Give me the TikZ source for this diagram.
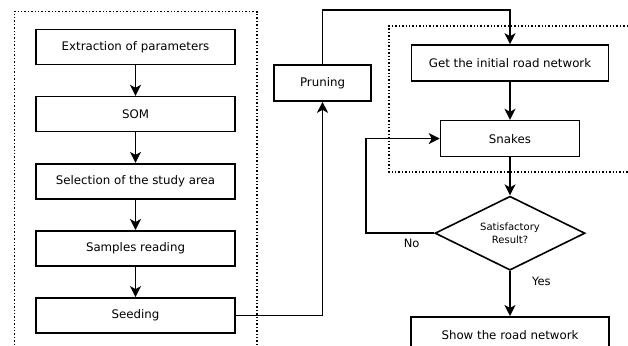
\documentclass[tikz,border=0pt]{standalone}
\usepackage{fontspec}
\setmainfont{DejaVu Sans}
\usetikzlibrary{arrows.meta,positioning,shapes.geometric,fit}

\begin{document}
\begin{tikzpicture}[
x=1pt,y=-1pt,
node distance=30.5pt,
box/.style={draw,line width=1.6pt,minimum height=35pt,align=center,font=\fontsize{11.8}{13}\selectfont},
test/.style={draw,diamond,aspect=2,line width=1.6pt,minimum width=150pt,minimum height=74pt,inner sep=0pt,align=center,font=\fontsize{10}{12.5}\selectfont},
lbl/.style={font=\fontsize{11.5}{13}\selectfont},
frame/.style={draw,dotted,line width=1.4pt},
arrow/.style={-{Stealth[length=11pt,width=11pt,inset=3pt]},line width=1.6pt}
]
\clip (0,0) rectangle (628,345);
\node[box,minimum width=199pt] (extract) at (135.5,47) {Extraction of parameters};
\node[box,minimum width=199pt,below=of extract] (som) {SOM};
\node[box,minimum width=199pt,below=of som] (area) {Selection of the study area};
\node[box,minimum width=199pt,below=of area] (samples) {Samples reading};
\node[box,minimum width=199pt,below=of samples] (seeding) {Seeding};
\node[frame,fit=(extract)(seeding),inner xsep=21pt,inner ysep=17pt] (prep) {};
\node[box,minimum width=97pt,minimum height=36pt] (pruning) at (322.5,83) {Pruning};
\node[box,minimum width=197pt,minimum height=36pt] (initial) at (510,63) {Get the initial road network};
\node[box,minimum width=139pt,minimum height=36pt,below=38pt of initial] (snakes) {Snakes};
\node[test,below=38pt of snakes] (check) {Satisfactory\\Result?};
\node[box,minimum width=198pt,minimum height=36pt,below=45pt of check] (show) {Show the road network};
\coordinate (top) at (0,10);
\coordinate (back) at (366,0);
% road network group
\draw[frame] (628,26) -- (389,26) -- (389,172) -- (628,172);
\draw[arrow] (extract) -- (som);
\draw[arrow] (som) -- (area);
\draw[arrow] (area) -- (samples);
\draw[arrow] (samples) -- (seeding);
\draw[arrow] (seeding) -| (pruning);
\draw[arrow] (pruning) -- (pruning |- top) -| (initial);
\draw[arrow] (initial) -- (snakes);
\draw[arrow] (snakes) -- (check);
\draw[arrow] (check) -- node[lbl,pos=0.22,right=18pt] {Yes} (show);
\draw[arrow] (check.west) -- node[lbl,pos=0.33,below=2pt] {No} (check.west -| back) |- (snakes);
\end{tikzpicture}
\end{document}
